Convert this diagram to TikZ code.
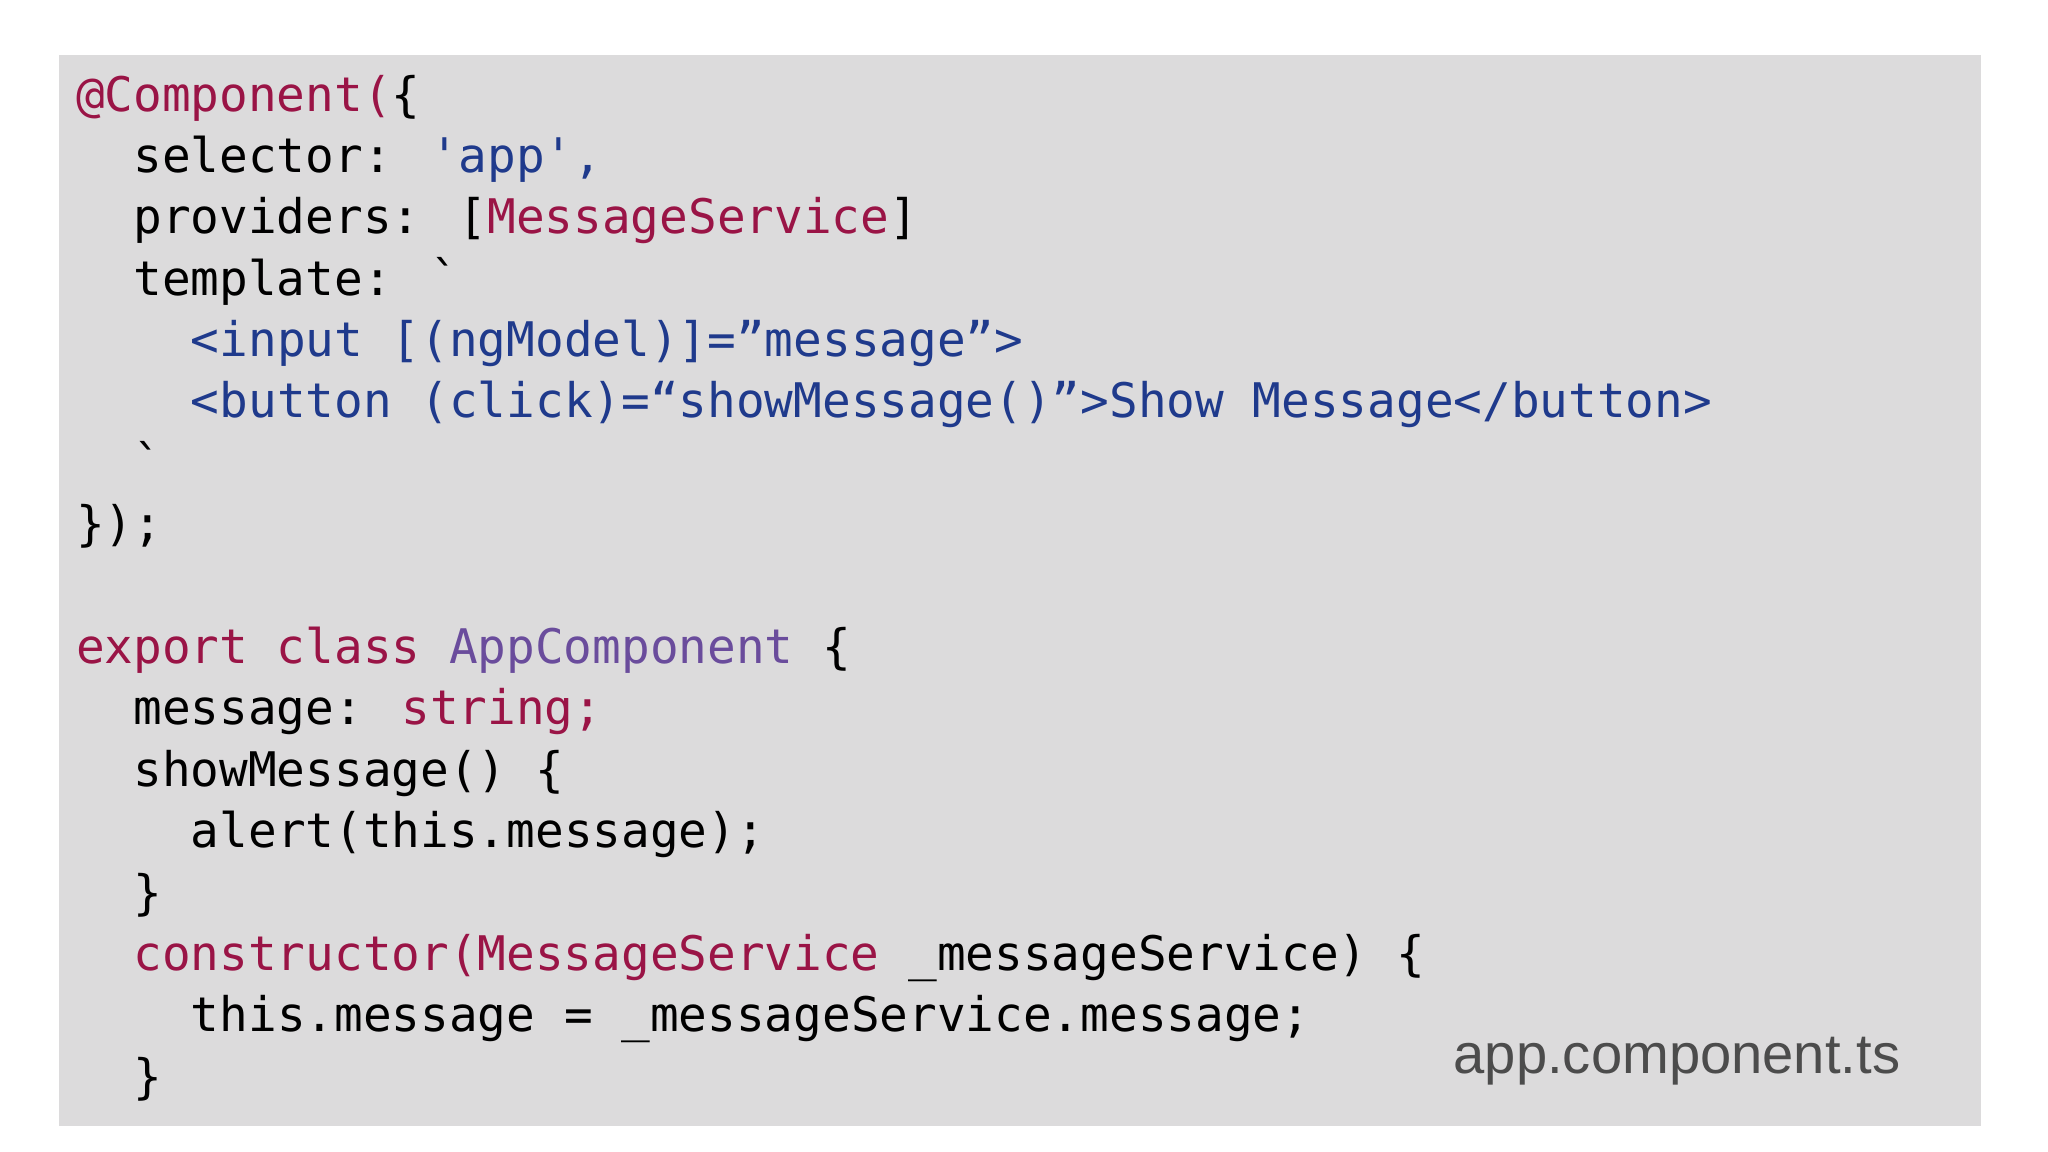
\documentclass[tikz,border=0pt]{standalone}
\usepackage{fontspec}
\setmainfont{Liberation Sans}
\newfontfamily\codefont{DejaVu Sans Mono}
\definecolor{kwred}{HTML}{9A1446}
\definecolor{strblue}{HTML}{1F3A8C}
\definecolor{clspurple}{HTML}{6A4C9C}
\definecolor{slidegray}{HTML}{DCDBDC}
\tikzset{
  codeline/.style={anchor=base west, inner sep=0pt, font=\codefont\fontsize{36.5}{47}\selectfont},
}
% one line of code: row, indent (characters), text
\newcommand{\codeat}[4]{\node[codeline] (#1) at ({58+#3*22},{85+#2*47}) {#4};}
\begin{document}
\begin{tikzpicture}[x=1pt,y=-1pt]
\useasboundingbox (0,0) rectangle (1568,882);
% background slide
\fill[slidegray] (45,42) rectangle (1517,862);
% decorator
\codeat{deco}{0}{0}{\textcolor{kwred}{@Component(}\{}
\codeat{sel}{1}{2}{selector: \textcolor{strblue}{'app',}}
\codeat{prov}{2}{2}{providers: [\textcolor{kwred}{MessageService}]}
\codeat{tmpl}{3}{2}{template: `}
\codeat{inp}{4}{4}{\textcolor{strblue}{<input [(ngModel)]=”message”>}}
\codeat{btn}{5}{4}{\textcolor{strblue}{<button (click)=“showMessage()”>Show Message</button>}}
\codeat{tick}{6}{2}{`}
\codeat{close}{7}{0}{\});}
% class
\codeat{cls}{9}{0}{\textcolor{kwred}{export class} \textcolor{clspurple}{AppComponent} \{}
\codeat{msg}{10}{2}{message: \textcolor{kwred}{string;}}
\codeat{show}{11}{2}{showMessage() \{}
\codeat{alrt}{12}{4}{alert(this.message);}
\codeat{showend}{13}{2}{\}}
\codeat{ctor}{14}{2}{\textcolor{kwred}{constructor(MessageService} \_messageService) \{}
\codeat{assign}{15}{4}{this.message = \_messageService.message;}
\codeat{ctorend}{16}{2}{\}}
% file name
\node[anchor=base east, inner sep=0pt, text=black!70, font=\fontsize{43}{50}\selectfont] (fname) at (1455,822) {app.component.ts};
\end{tikzpicture}
\end{document}
